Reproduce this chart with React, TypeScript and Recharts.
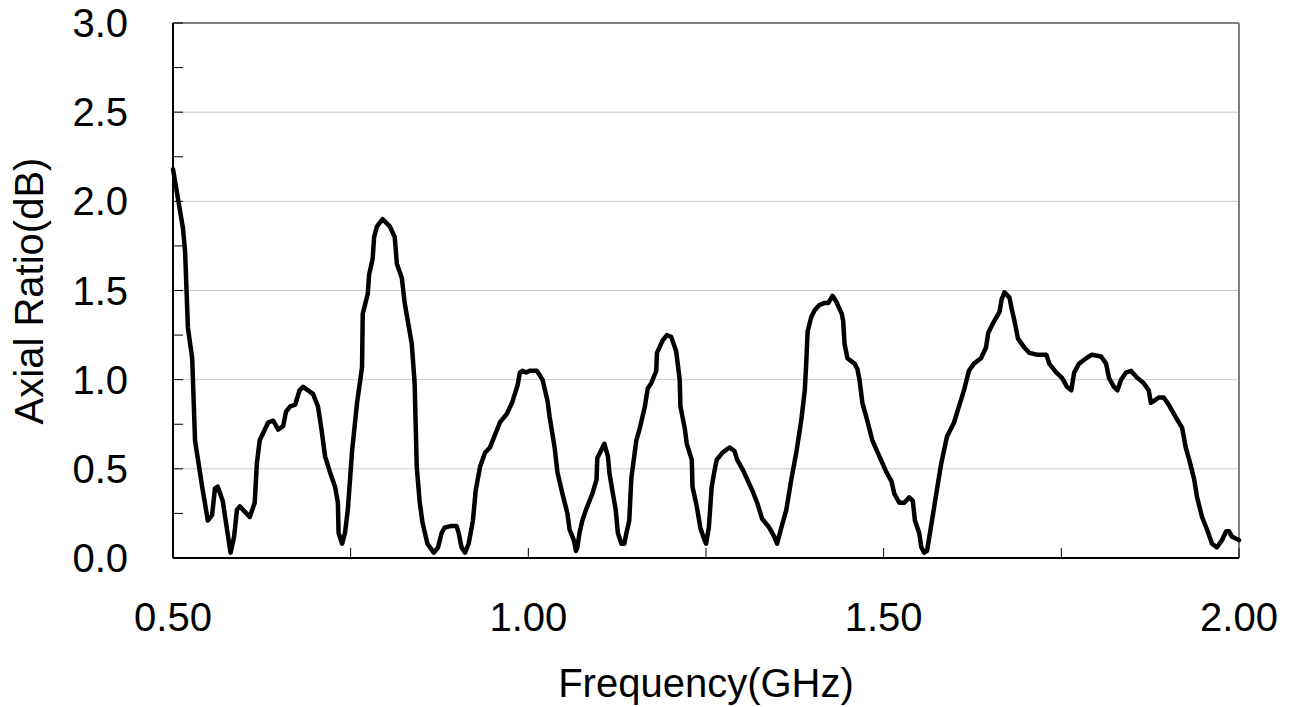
import { LineChart, Line, XAxis, YAxis, CartesianGrid, ReferenceLine, Label } from 'recharts';

const freq = [
  0.5, 0.514, 0.517, 0.521, 0.527, 0.531, 0.541, 0.549, 0.555, 0.559, 0.563, 0.57, 0.576, 0.581, 0.586, 0.59,
  0.594, 0.601, 0.608, 0.615, 0.618, 0.622, 0.634, 0.641, 0.648, 0.655, 0.659, 0.665, 0.672, 0.678, 0.683, 0.697,
  0.704, 0.709, 0.714, 0.721, 0.728, 0.732, 0.733, 0.738, 0.742, 0.746, 0.752, 0.759, 0.766, 0.767, 0.774, 0.776,
  0.781, 0.783, 0.787, 0.795, 0.805, 0.812, 0.815, 0.822, 0.826, 0.836, 0.84, 0.843, 0.847, 0.851, 0.858, 0.867,
  0.873, 0.878, 0.882, 0.892, 0.899, 0.902, 0.906, 0.911, 0.916, 0.922, 0.926, 0.932, 0.939, 0.946, 0.95, 0.96,
  0.97, 0.977, 0.985, 0.988, 0.992, 0.997, 1.002, 1.012, 1.02, 1.027, 1.03, 1.037, 1.041, 1.048, 1.055, 1.058,
  1.064, 1.067, 1.069, 1.072, 1.076, 1.082, 1.085, 1.09, 1.096, 1.097, 1.102, 1.107, 1.112, 1.114, 1.119, 1.123,
  1.126, 1.131, 1.135, 1.138, 1.142, 1.145, 1.149, 1.152, 1.157, 1.164, 1.168, 1.173, 1.18, 1.181, 1.189, 1.195,
  1.201, 1.208, 1.213, 1.214, 1.22, 1.223, 1.23, 1.231, 1.237, 1.242, 1.248, 1.25, 1.254, 1.258, 1.262, 1.265,
  1.273, 1.283, 1.29, 1.294, 1.301, 1.307, 1.315, 1.322, 1.329, 1.339, 1.346, 1.35, 1.356, 1.363, 1.37, 1.377,
  1.384, 1.389, 1.391, 1.393, 1.398, 1.403, 1.41, 1.417, 1.422, 1.428, 1.433, 1.441, 1.443, 1.445, 1.449, 1.459,
  1.463, 1.466, 1.47, 1.477, 1.484, 1.494, 1.504, 1.511, 1.515, 1.522, 1.529, 1.536, 1.541, 1.544, 1.55, 1.553,
  1.557, 1.561, 1.568, 1.574, 1.581, 1.589, 1.599, 1.606, 1.613, 1.62, 1.627, 1.637, 1.644, 1.647, 1.653, 1.663,
  1.666, 1.67, 1.677, 1.68, 1.684, 1.689, 1.698, 1.705, 1.716, 1.729, 1.733, 1.743, 1.751, 1.758, 1.764, 1.768,
  1.775, 1.785, 1.793, 1.806, 1.813, 1.817, 1.824, 1.829, 1.834, 1.841, 1.848, 1.857, 1.866, 1.873, 1.876, 1.88,
  1.887, 1.894, 1.901, 1.911, 1.92, 1.925, 1.93, 1.937, 1.941, 1.948, 1.955, 1.962, 1.969, 1.976, 1.982, 1.986,
  1.99, 2.0,
];

const axialRatio = [
  2.18, 1.85, 1.72, 1.29, 1.12, 0.66, 0.4, 0.21, 0.24, 0.39, 0.4, 0.32, 0.16, 0.03, 0.12, 0.27,
  0.29, 0.26, 0.23, 0.31, 0.53, 0.66, 0.76, 0.77, 0.72, 0.74, 0.82, 0.85, 0.86, 0.94, 0.96, 0.92,
  0.85, 0.72, 0.57, 0.48, 0.4, 0.31, 0.14, 0.08, 0.14, 0.27, 0.6, 0.87, 1.07, 1.37, 1.48, 1.59,
  1.68, 1.8, 1.86, 1.9, 1.86, 1.8, 1.65, 1.57, 1.43, 1.2, 0.98, 0.51, 0.32, 0.2, 0.08, 0.03,
  0.06, 0.14, 0.17, 0.18, 0.18, 0.14, 0.06, 0.03, 0.08, 0.21, 0.38, 0.51, 0.59, 0.62, 0.66, 0.76,
  0.81, 0.87, 0.97, 1.04, 1.05, 1.04, 1.05, 1.05, 1.0, 0.88, 0.79, 0.62, 0.48, 0.36, 0.25, 0.16,
  0.1, 0.04, 0.06, 0.14, 0.21, 0.28, 0.31, 0.36, 0.44, 0.56, 0.6, 0.64, 0.57, 0.48, 0.36, 0.27,
  0.14, 0.08, 0.08, 0.14, 0.21, 0.45, 0.57, 0.66, 0.73, 0.85, 0.95, 0.98, 1.05, 1.15, 1.22, 1.25,
  1.24, 1.16, 1.0, 0.85, 0.73, 0.64, 0.55, 0.4, 0.29, 0.17, 0.1, 0.08, 0.17, 0.4, 0.49, 0.55,
  0.59, 0.62, 0.6, 0.55, 0.5, 0.45, 0.38, 0.31, 0.22, 0.17, 0.12, 0.08, 0.17, 0.27, 0.44, 0.59,
  0.77, 0.94, 1.09, 1.27, 1.35, 1.39, 1.42, 1.43, 1.43, 1.47, 1.44, 1.37, 1.33, 1.2, 1.12, 1.09,
  1.06, 1.0, 0.87, 0.77, 0.66, 0.57, 0.48, 0.43, 0.36, 0.31, 0.31, 0.34, 0.32, 0.21, 0.14, 0.06,
  0.03, 0.04, 0.21, 0.36, 0.53, 0.68, 0.76, 0.85, 0.94, 1.05, 1.09, 1.12, 1.18, 1.26, 1.31, 1.38,
  1.45, 1.49, 1.46, 1.4, 1.33, 1.23, 1.18, 1.15, 1.14, 1.14, 1.09, 1.04, 1.01, 0.96, 0.94, 1.04,
  1.09, 1.12, 1.14, 1.13, 1.09, 1.01, 0.96, 0.94, 1.0, 1.04, 1.05, 1.01, 0.98, 0.94, 0.87, 0.88,
  0.9, 0.9, 0.86, 0.79, 0.73, 0.62, 0.55, 0.44, 0.34, 0.23, 0.16, 0.08, 0.06, 0.1, 0.15, 0.15,
  0.12, 0.1,
];

const xTicks = [0.5, 0.75, 1.0, 1.25, 1.5, 1.75, 2.0];
const xLabels = [0.5, 1.0, 1.5, 2.0];
const yTicks = [0, 0.25, 0.5, 0.75, 1.0, 1.25, 1.5, 1.75, 2.0, 2.25, 2.5, 2.75, 3.0];
const yLabels = [0, 0.5, 1.0, 1.5, 2.0, 2.5, 3.0];
const gridValues = [0.5, 1.0, 1.5, 2.0, 2.5];

const data = freq.map((f, i) => ({ f, ar: axialRatio[i] }));

const FONT = '"Liberation Sans", Arial, sans-serif';

function XTick({ x, y, payload }: any) {
  const v = payload.value;
  return (
    <g>
      <line x1={x} y1={y} x2={x} y2={y - 10} stroke="#000" strokeWidth={1} />
      {xLabels.includes(v) && (
        <text x={x} y={y + 73} textAnchor="middle" fontFamily={FONT} fontSize={40} fill="#000">
          {v.toFixed(2)}
        </text>
      )}
    </g>
  );
}

function YTick({ x, y, payload }: any) {
  const v = payload.value;
  return (
    <g>
      <line x1={x} y1={y} x2={x + 10} y2={y} stroke="#000" strokeWidth={1} />
      {yLabels.includes(v) && (
        <text x={x - 45} y={y} dy={14} textAnchor="end" fontFamily={FONT} fontSize={40} fill="#000">
          {v.toFixed(1)}
        </text>
      )}
    </g>
  );
}

export default function App() {
  return (
    <div style={{ position: 'absolute', left: 0, top: 0, background: '#fff' }}>
      <LineChart width={1292} height={707} data={data} margin={{ top: 23, right: 53, bottom: 0, left: 0 }}>
        <CartesianGrid horizontal vertical={false} horizontalValues={gridValues} stroke="#c8c8c8" strokeWidth={1} />
        <ReferenceLine y={3} stroke="#808080" strokeWidth={2} />
        <ReferenceLine x={2} stroke="#808080" strokeWidth={2} />
        <XAxis
          dataKey="f"
          type="number"
          domain={[0.5, 2.0]}
          ticks={xTicks}
          interval={0}
          height={149}
          tickSize={0}
          tickMargin={0}
          tick={<XTick />}
          axisLine={{ stroke: '#000', strokeWidth: 2 }}
          tickLine={false}
        >
          <Label
            content={() => (
              <text x={706} y={697} textAnchor="middle" fontFamily={FONT} fontSize={40} fill="#000">
                Frequency(GHz)
              </text>
            )}
          />
        </XAxis>
        <YAxis
          type="number"
          domain={[0, 3]}
          ticks={yTicks}
          interval={0}
          width={173}
          tickSize={0}
          tickMargin={0}
          tick={<YTick />}
          axisLine={{ stroke: '#000', strokeWidth: 2 }}
          tickLine={false}
        >
          <Label
            content={() => (
              <text
                x={43}
                y={291}
                transform="rotate(-90 43 291)"
                textAnchor="middle"
                fontFamily={FONT}
                fontSize={40}
                fill="#000"
              >
                Axial Ratio(dB)
              </text>
            )}
          />
        </YAxis>
        <Line
          type="linear"
          dataKey="ar"
          stroke="#000"
          strokeWidth={4.5}
          strokeLinejoin="round"
          strokeLinecap="round"
          dot={false}
          isAnimationActive={false}
        />
      </LineChart>
    </div>
  );
}
